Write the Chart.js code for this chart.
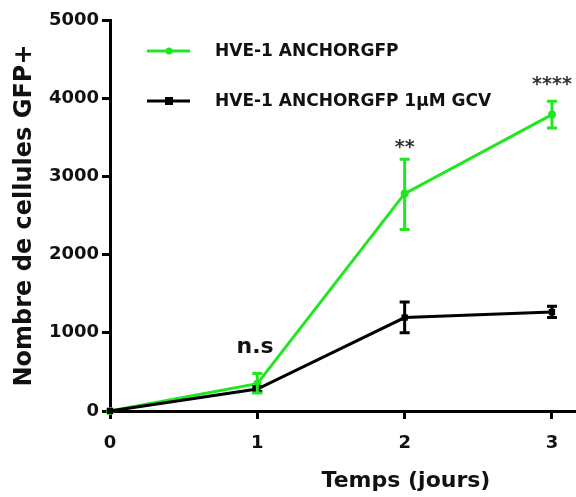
<!DOCTYPE html>
<html><head><meta charset="utf-8">
<script src="https://cdn.jsdelivr.net/npm/chart.js@4"></script>
<style>html,body{margin:0;padding:0;background:#fff}#wrap{width:576px;height:497px}</style>
</head><body><div id="wrap"><canvas id="c" width="576" height="497"></canvas></div>
<script>
const days = [0, 1, 2, 3];
const seriesNames = ['HVE-1 ANCHORGFP', 'HVE-1 ANCHORGFP 1µM GCV'];
const gfpMean = [0, 350, 2780, 3790];
const gfpLow  = [0, 230, 2320, 3620];
const gfpHigh = [0, 480, 3220, 3960];
const gcvMean = [0, 280, 1195, 1265];
const gcvLow  = [0, 250, 1000, 1195];
const gcvHigh = [0, 310, 1395, 1340];
const yTicks = [0, 1000, 2000, 3000, 4000, 5000];
const xTicks = [0, 1, 2, 3];
const sigLabels = ['n.s', '**', '****'];
const sigX = [0.985, 2, 3];
const sigY = [820, 3360, 4170];
const xTitle = 'Temps (jours)';
const yTitle = 'Nombre de cellules GFP+';

const GREEN = '#22e622';
const BLACK = '#000000';
const FONT = '"DejaVu Sans", sans-serif';

const errorBars = {
  id: 'errorBars',
  afterDatasetsDraw(chart) {
    const ctx = chart.ctx;
    const xs = chart.scales.x, ys = chart.scales.y;
    chart.data.datasets.forEach(ds => {
      if (!ds.errLow) return;
      ctx.save();
      ctx.strokeStyle = ds.borderColor;
      ctx.lineWidth = 3;
      ds.data.forEach((p, i) => {
        const lo = ds.errLow[i], hi = ds.errHigh[i];
        if (hi - lo <= 0) return;
        const px = xs.getPixelForValue(p.x);
        const yl = ys.getPixelForValue(lo), yh = ys.getPixelForValue(hi);
        ctx.beginPath();
        ctx.moveTo(px, yl); ctx.lineTo(px, yh);
        ctx.moveTo(px - 5, yl); ctx.lineTo(px + 5, yl);
        ctx.moveTo(px - 5, yh); ctx.lineTo(px + 5, yh);
        ctx.stroke();
      });
      ctx.restore();
    });
  }
};

const extras = {
  id: 'extras',
  afterDraw(chart) {
    const ctx = chart.ctx;
    const xs = chart.scales.x, ys = chart.scales.y;
    ctx.save();
    ctx.textAlign = 'center';
    ctx.textBaseline = 'middle';
    sigLabels.forEach((t, i) => {
      ctx.fillStyle = t === 'n.s' ? '#111' : '#333';
      ctx.font = 'bold ' + (t === 'n.s' ? 22 : 19) + 'px ' + FONT;
      ctx.fillText(t, xs.getPixelForValue(sigX[i]), ys.getPixelForValue(sigY[i]));
    });
    ctx.fillStyle = '#111';
    ctx.font = 'bold 22px ' + FONT;
    ctx.fillText(xTitle, 406, 481);
    const rows = [
      {c: GREEN, style: 'circle', y: 51},
      {c: BLACK, style: 'rect', y: 101}
    ];
    rows.forEach((r, i) => {
      ctx.strokeStyle = r.c; ctx.fillStyle = r.c; ctx.lineWidth = 3;
      ctx.beginPath(); ctx.moveTo(147, r.y); ctx.lineTo(190, r.y); ctx.stroke();
      if (r.style === 'circle') { ctx.beginPath(); ctx.arc(169, r.y, 3.5, 0, Math.PI * 2); ctx.fill(); }
      else ctx.fillRect(165, r.y - 4, 8, 8);
      ctx.fillStyle = '#111';
      ctx.textAlign = 'left';
      ctx.font = 'bold 17px ' + FONT;
      ctx.fillText(seriesNames[i], 215, r.y + 1);
    });
    ctx.restore();
  }
};

new Chart(document.getElementById('c'), {
  type: 'line',
  data: {
    datasets: [
      {
        label: seriesNames[1],
        data: days.map((d, i) => ({x: d, y: gcvMean[i]})),
        errLow: gcvLow, errHigh: gcvHigh,
        borderColor: BLACK, backgroundColor: BLACK,
        borderWidth: 3, pointStyle: 'rect', pointRadius: 4.5,
        pointBorderWidth: 0, tension: 0, clip: false
      },
      {
        label: seriesNames[0],
        data: days.map((d, i) => ({x: d, y: gfpMean[i]})),
        errLow: gfpLow, errHigh: gfpHigh,
        borderColor: GREEN, backgroundColor: GREEN,
        borderWidth: 3, pointStyle: 'circle', pointRadius: 4,
        pointBorderWidth: 0, tension: 0, clip: false
      }
    ]
  },
  options: {
    responsive: false,
    animation: false,
    devicePixelRatio: 1,
    layout: {autoPadding: false, padding: {top: 20, right: 0, left: 0, bottom: 0}},
    plugins: {legend: {display: false}, tooltip: {enabled: false}},
    scales: {
      x: {
        type: 'linear', min: 0, max: 3.163,
        afterBuildTicks: s => { s.ticks = xTicks.map(v => ({value: v})); },
        afterFit: s => { s.height = 86; s.paddingRight = 0; s.paddingLeft = 0; },
        grid: {drawOnChartArea: false, drawTicks: true, tickLength: 8, tickWidth: 3, tickColor: BLACK},
        border: {display: true, width: 3, color: BLACK},
        ticks: {padding: 14, color: '#111', font: {family: FONT, size: 18, weight: 'bold'}, maxRotation: 0,
                callback: v => String(v)}
      },
      y: {
        min: 0, max: 5000,
        afterBuildTicks: s => { s.ticks = yTicks.map(v => ({value: v})); },
        afterFit: s => { s.width = 110; },
        grid: {drawOnChartArea: false, drawTicks: true, tickLength: 8, tickWidth: 3, tickColor: BLACK},
        border: {display: true, width: 3, color: BLACK},
        ticks: {padding: 3, color: '#111', font: {family: FONT, size: 18, weight: 'bold'},
                callback: v => String(v)},
        title: {display: true, text: yTitle, color: '#111', font: {family: FONT, size: 24, weight: 'bold'}, padding: {top: 10, bottom: 0}}
      }
    }
  },
  plugins: [errorBars, extras]
});
</script>
</body></html>
